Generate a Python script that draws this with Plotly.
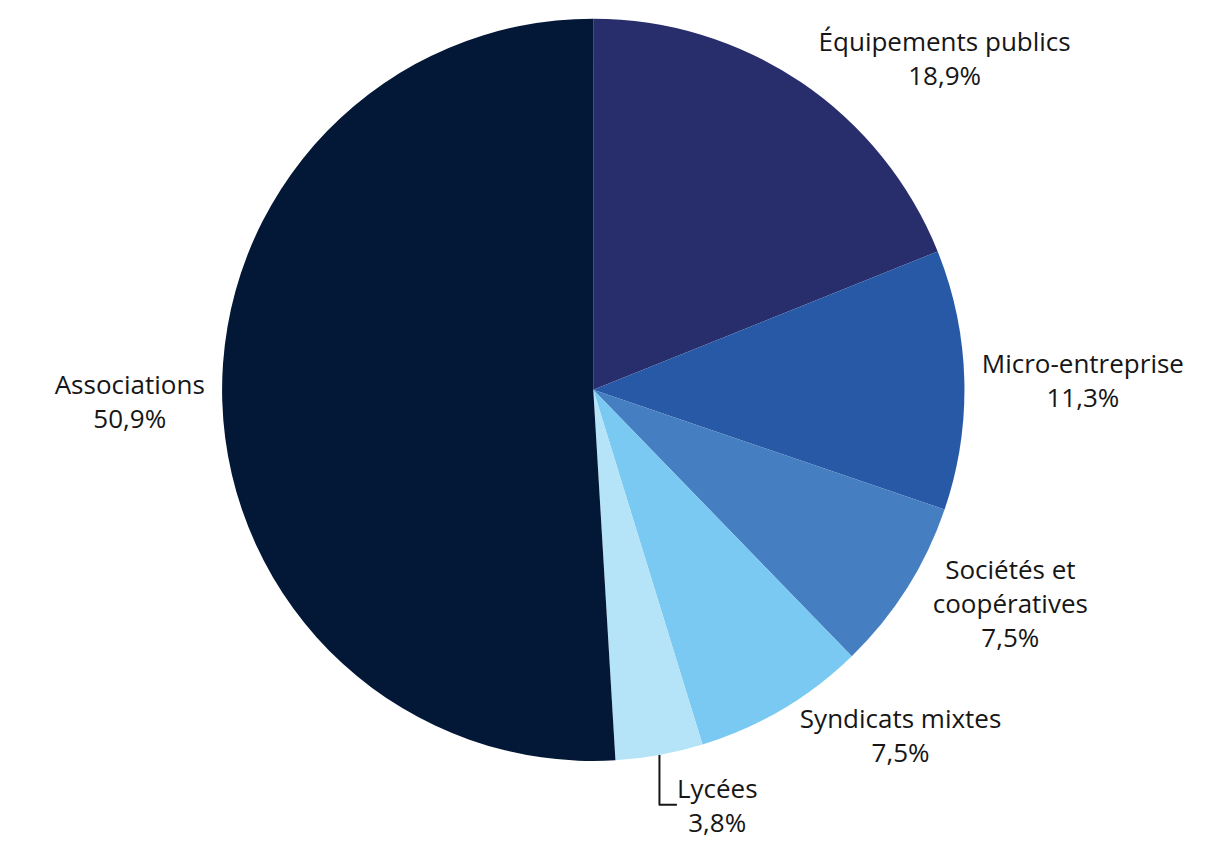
import plotly.graph_objects as go

labels = ["Équipements publics", "Micro-entreprise", "Sociétés et<br>coopératives",
          "Syndicats mixtes", "Lycées", "Associations"]
values = [18.9, 11.3, 7.5, 7.5, 3.8, 50.9]
pct_text = ["18,9%", "11,3%", "7,5%", "7,5%", "3,8%", "50,9%"]
colors = ["#282D6B", "#2859A7", "#457FC2", "#79C9F2", "#B5E3F8", "#031736"]

fig = go.Figure(go.Pie(
    labels=labels,
    values=values,
    customdata=pct_text,
    texttemplate="%{label}<br>%{customdata}",
    textposition="outside",
    textfont=dict(family="Open Sans", size=26, color="#161616"),
    marker=dict(colors=colors, line=dict(width=0)),
    sort=False,
    direction="clockwise",
    rotation=0,
    showlegend=False,
    domain=dict(x=[0.1765, 0.7885], y=[0.1035, 0.9885]),
    automargin=False,
))

fig.update_layout(
    width=1213, height=841,
    margin=dict(l=0, r=0, t=0, b=0),
    paper_bgcolor="white",
    plot_bgcolor="white",
)

fig.write_html("out.html")
